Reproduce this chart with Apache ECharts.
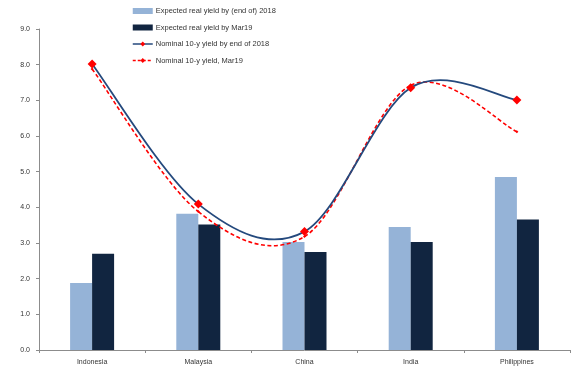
<!DOCTYPE html>
<html>
<head>
<meta charset="utf-8">
<script src="https://cdn.jsdelivr.net/npm/echarts@6/dist/echarts.min.js"></script>
<style>
  html, body { margin: 0; padding: 0; background: #fff; }
  #chart { width: 582px; height: 370px; }
</style>
</head>
<body>
<div id="chart"></div>
<script>
// Countries on the x axis
const categories = ['Indonesia', 'Malaysia', 'China', 'India', 'Philippines'];

// Real yields (bars)
const realYieldEnd2018 = [1.88, 3.82, 3.03, 3.45, 4.85];
const realYieldMar19   = [2.70, 3.52, 2.75, 3.03, 3.66];

// Nominal 10-year yields (lines)
const nominalEnd2018 = [8.02, 4.09, 3.32, 7.35, 7.01];
const nominalMar19   = [7.88, 3.88, 3.18, 7.42, 6.12];

// Y-axis tick labels
const yTicks = ['0.0', '1.0', '2.0', '3.0', '4.0', '5.0', '6.0', '7.0', '8.0', '9.0'];

const seriesNames = [
  'Expected real yield by (end of) 2018',
  'Expected real yield by Mar19',
  'Nominal 10-y yield by end of 2018',
  'Nominal 10-y yield, Mar19'
];

const FONT = '"Liberation Sans", Arial, sans-serif';
const NAVY_LINE = '#24497d';
const RED = '#ff0000';

// Cardinal (Catmull-Rom) spline through the points, one cubic segment per
// data item, positioned with the chart's own coordinate system.
function splineSeries(values, stroke, width, dash, z) {
  const n = values.length;
  return {
    type: 'custom',
    silent: true,
    z: z,
    data: values.map((v, i) => [i, v]),
    encode: { x: 0, y: 1 },
    renderItem(params, api) {
      const i = params.dataIndex;
      if (i >= n - 1) return null;
      const P = k => {
        const c = Math.max(0, Math.min(n - 1, k));
        return api.coord([c, values[c]]);
      };
      const p0 = P(i - 1), p1 = P(i), p2 = P(i + 1), p3 = P(i + 2);
      return {
        type: 'bezierCurve',
        shape: {
          x1: p1[0], y1: p1[1],
          x2: p2[0], y2: p2[1],
          cpx1: p1[0] + (p2[0] - p0[0]) / 6,
          cpy1: p1[1] + (p2[1] - p0[1]) / 6,
          cpx2: p2[0] - (p3[0] - p1[0]) / 6,
          cpy2: p2[1] - (p3[1] - p1[1]) / 6
        },
        style: { stroke: stroke, lineWidth: width, lineDash: dash, fill: null }
      };
    }
  };
}

const chart = echarts.init(document.getElementById('chart'), null, { renderer: 'canvas' });

chart.setOption({
  animation: false,
  backgroundColor: '#ffffff',
  textStyle: { fontFamily: FONT },
  grid: { left: 39, right: 12, top: 29, bottom: 20 },
  legend: {
    orient: 'vertical',
    left: 132,
    top: 6,
    padding: 0,
    itemWidth: 20,
    itemHeight: 6,
    itemGap: 6.5,
    textStyle: { fontSize: 7.5, color: '#333', fontFamily: FONT, lineHeight: 10, padding: [0, 0, 0, -2] },
    data: [
      { name: seriesNames[0], icon: 'rect' },
      { name: seriesNames[1], icon: 'rect' },
      { name: seriesNames[2], lineStyle: { color: NAVY_LINE, width: 1.5, opacity: 1, type: 'solid' } },
      { name: seriesNames[3], lineStyle: { color: RED, width: 1.3, opacity: 1, type: [3, 2] } }
    ]
  },
  xAxis: {
    type: 'category',
    data: categories,
    boundaryGap: true,
    axisLine: { lineStyle: { color: '#8c8c8c', width: 1 } },
    axisTick: { show: true, length: 3, lineStyle: { color: '#8c8c8c' } },
    axisLabel: { fontSize: 7, color: '#333', margin: 9, fontFamily: FONT }
  },
  yAxis: {
    type: 'value',
    min: 0,
    max: 9,
    interval: 1,
    splitLine: { show: false },
    axisLine: { show: true, lineStyle: { color: '#8c8c8c', width: 1 } },
    axisTick: { show: true, length: 3, lineStyle: { color: '#8c8c8c' } },
    axisLabel: {
      fontSize: 7, color: '#333', margin: 9, fontFamily: FONT,
      formatter: v => yTicks[Math.round(v)]
    }
  },
  series: [
    {
      name: seriesNames[0],
      type: 'bar',
      data: realYieldEnd2018,
      barWidth: 22,
      barGap: '0%',
      itemStyle: { color: '#95b3d7' }
    },
    {
      name: seriesNames[1],
      type: 'bar',
      data: realYieldMar19,
      barWidth: 22,
      barGap: '0%',
      itemStyle: { color: '#112540' }
    },
    splineSeries(nominalMar19, RED, 1.6, [4, 2.5], 3),
    splineSeries(nominalEnd2018, NAVY_LINE, 1.8, null, 4),
    {
      name: seriesNames[2],
      type: 'line',
      data: nominalEnd2018,
      symbol: 'diamond',
      symbolSize: 9,
      itemStyle: { color: RED },
      lineStyle: { opacity: 0 },
      z: 6
    },
    {
      name: seriesNames[3],
      type: 'line',
      data: nominalMar19,
      symbol: 'diamond',
      symbolSize: 3,
      itemStyle: { color: RED },
      lineStyle: { opacity: 0 },
      z: 5
    }
  ]
});
</script>
</body>
</html>
